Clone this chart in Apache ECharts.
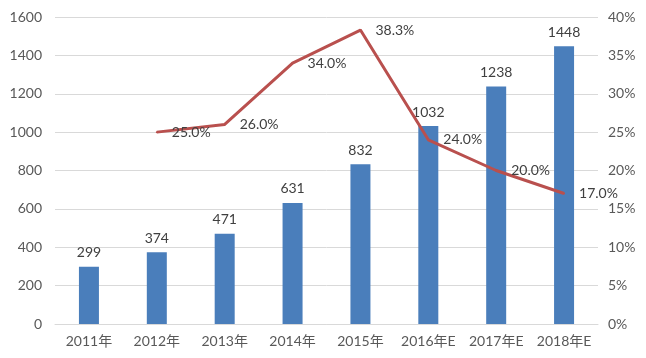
<!DOCTYPE html>
<html><head><meta charset="utf-8">
<script src="https://cdn.jsdelivr.net/npm/echarts@6/dist/echarts.min.js"></script>
<style>html,body{margin:0;padding:0;background:#fff}#c{width:646px;height:358px}</style>
</head><body><div id="c"></div>
<script>
var categories = ['2011年','2012年','2013年','2014年','2015年','2016年E','2017年E','2018年E'];
var barValues = [299, 374, 471, 631, 832, 1032, 1238, 1448];
var growthValues = [null, 25.0, 26.0, 34.0, 38.3, 24.0, 20.0, 17.0];
var leftTicks = [0, 1600, 200];
var rightTicks = [0, 40, 5];

var font = 'Lato, "Noto Sans CJK SC", sans-serif';
var chart = echarts.init(document.getElementById('c'), null, {renderer:'canvas'});
chart.setOption({
  animation:false,
  textStyle:{fontFamily:font},
  grid:{left:55, right:48, top:17, bottom:34, containLabel:false},
  xAxis:{type:'category', data:categories,
    axisLine:{lineStyle:{color:'#d9d9d9'}}, axisTick:{show:false},
    axisLabel:{color:'#595959', fontSize:14, fontFamily:font, margin:10, interval:0, hideOverlap:false}},
  yAxis:[
    {type:'value', min:leftTicks[0], max:leftTicks[1], interval:leftTicks[2],
     axisLine:{show:false}, axisTick:{show:false},
     splitLine:{lineStyle:{color:'#d9d9d9'}},
     axisLabel:{color:'#595959', fontSize:14, fontFamily:font, margin:13, formatter:function(v){return String(v);}}},
    {type:'value', min:rightTicks[0], max:rightTicks[1], interval:rightTicks[2],
     axisLine:{show:false}, axisTick:{show:false}, splitLine:{show:false},
     axisLabel:{color:'#595959', fontSize:14, fontFamily:font, margin:10, formatter:'{value}%'}}
  ],
  series:[
    {type:'bar', data:barValues, barWidth:20, itemStyle:{color:'#4a7ebb'},
     label:{show:true, position:'top', color:'#404040', fontSize:14, fontFamily:font, distance:7}},
    {type:'line', yAxisIndex:1, data:growthValues, symbol:'circle', symbolSize:2, showSymbol:true,
     itemStyle:{color:'#b9504e'}, connectNulls:false,
     lineStyle:{color:'#b9504e', width:3},
     label:{show:true, position:'right', color:'#404040', fontSize:14, fontFamily:font, distance:14,
       formatter:function(p){return p.value==null?'':p.value.toFixed(1)+'%';}}}
  ]
});
</script></body></html>
